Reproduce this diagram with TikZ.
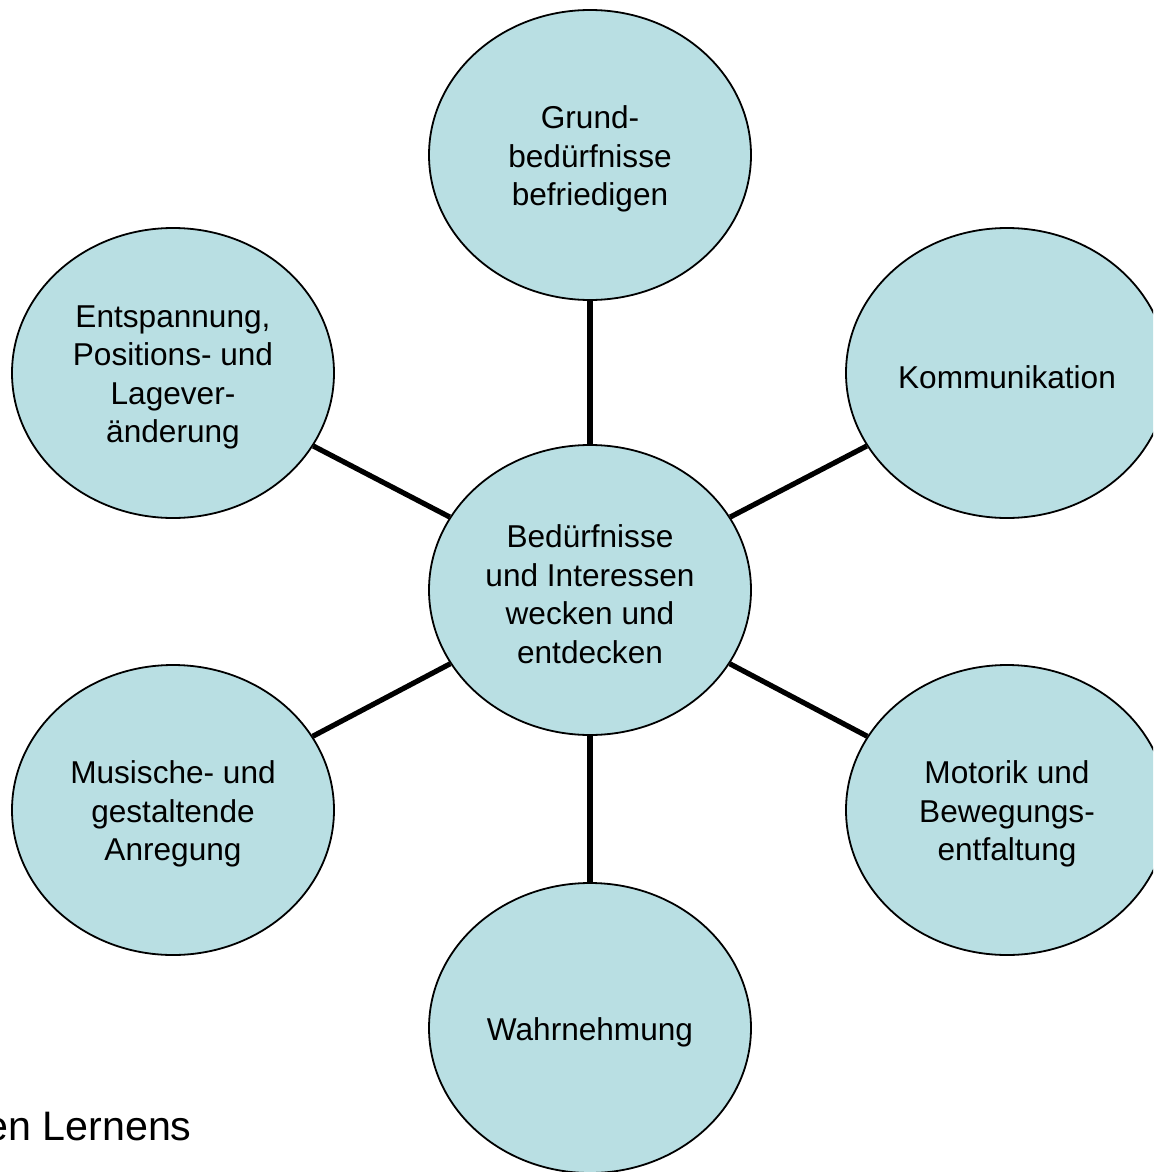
\documentclass[tikz,border=0pt]{standalone}
\usepackage{fontspec}
\setmainfont{Liberation Sans}
\usetikzlibrary{shapes.geometric}
\definecolor{bubblefill}{RGB}{185,223,227}
\newcommand{\hoch}{\rule{0pt}{15.5pt}}

\begin{document}
\begin{tikzpicture}[x=0.5pt,y=-0.5pt,
    bubble/.style={ellipse,draw=black,line width=0.9pt,fill=bubblefill,
      minimum width=161pt,minimum height=145pt,inner sep=1pt,align=center,
      font=\fontsize{15.8pt}{19.25pt}\selectfont},
    spoke/.style={line width=2.6pt}]
          \useasboundingbox (0,0) rectangle (1153,1172);
          \clip (0,0) rectangle (1153,1172);
          \node[anchor=base east,inner sep=0pt,font=\fontsize{20.6pt}{24pt}\selectfont]
            (titel) at (192,1140) {en Lernens};
          \node[bubble] (mitte)   at (590,590)  {\hoch Bedürfnisse\\und Interessen\\wecken und\\entdecken};
          \node[bubble] (grund)   at (590,155)  {\hoch Grund-\\bedürfnisse\\befriedigen};
          \node[bubble] (komm)    at (1007,373) {\hoch Kommunikation};
          \node[bubble] (motorik) at (1007,810) {\hoch Motorik und\\Bewegungs-\\entfaltung};
          \node[bubble] (wahr)    at (590,1028) {\hoch Wahrnehmung};
          \node[bubble] (musisch) at (173,810)  {\hoch Musische- und\\gestaltende\\Anregung};
          \node[bubble] (entsp)   at (173,373)  {\hoch Entspannung,\\Positions- und\\Lagever-\\änderung};
          \foreach \ziel in {grund,komm,motorik,wahr,musisch,entsp}
            \draw[spoke] (mitte) -- (\ziel);
        \end{tikzpicture}
\end{document}
